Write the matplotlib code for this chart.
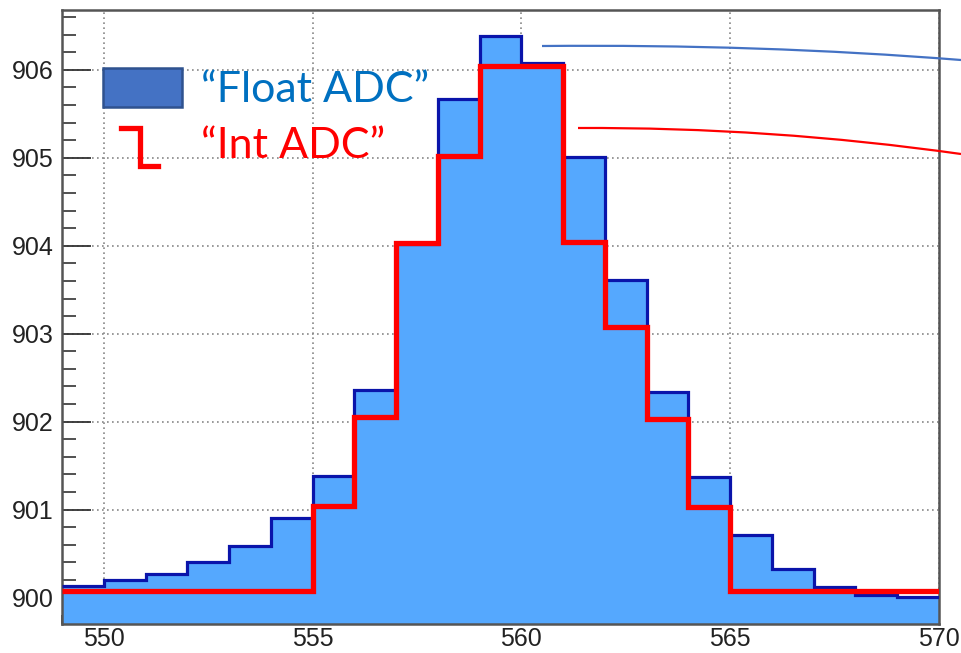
import numpy as np
import matplotlib
matplotlib.use("Agg")
import matplotlib.pyplot as plt
from matplotlib.path import Path
from matplotlib.patches import PathPatch, Rectangle
from matplotlib.lines import Line2D
from matplotlib.ticker import MultipleLocator, FixedLocator

# ---- data ----
bin_edges = list(range(549, 571))
float_adc = [900.13, 900.20, 900.27, 900.40, 900.59, 900.90, 901.38, 902.36,
             904.02, 905.67, 906.39, 906.08, 905.01, 903.61, 902.34, 901.37,
             900.71, 900.32, 900.12, 900.03, 900.01]
int_adc = [900.07, 900.07, 900.07, 900.07, 900.07, 900.07, 901.04, 902.05,
           904.03, 905.02, 906.04, 906.04, 904.04, 903.08, 902.03, 901.03,
           900.07, 900.07, 900.07, 900.07, 900.07]
x_major_ticks = [550, 555, 560, 565, 570]
y_major_ticks = [900, 901, 902, 903, 904, 905, 906]
legend_labels = ["\u201cFloat ADC\u201d", "\u201cInt ADC\u201d"]

W, H = 961, 653
fig = plt.figure(figsize=(W / 100, H / 100), dpi=100)
ax = fig.add_axes([62 / W, 1 - 624 / H, (939 - 62) / W, (624 - 10) / H])

ax.set_xlim(549, 570)
ax.set_ylim(899.70, 906.68)

ax.stairs(float_adc, bin_edges, fill=True, baseline=899.0, color="#55a8fe", zorder=2)
ax.stairs(float_adc, bin_edges, baseline=None, color="#0a14aa", linewidth=2.3, zorder=3)
ax.stairs(int_adc, bin_edges, baseline=None, color="#ff0000", linewidth=3.8, zorder=4)

ax.xaxis.set_major_locator(FixedLocator(x_major_ticks))
ax.yaxis.set_major_locator(FixedLocator(y_major_ticks))
ax.xaxis.set_minor_locator(MultipleLocator(1))
ax.yaxis.set_minor_locator(MultipleLocator(0.2))
ax.tick_params(which="both", direction="in", top=False, right=False, color="#333333")
ax.tick_params(which="major", axis="y", length=21, width=1.3)
ax.tick_params(which="minor", axis="y", length=10, width=1.2)
ax.tick_params(which="major", axis="x", length=14, width=1.3)
ax.tick_params(which="minor", axis="x", length=6.5, width=1.2)
ax.tick_params(axis="y", pad=6)
ax.tick_params(axis="x", pad=2)
for lab in ax.get_xticklabels() + ax.get_yticklabels():
    lab.set_fontfamily("Liberation Sans")
    lab.set_fontsize(18)
    lab.set_color("#222222")

ax.grid(True, which="major", linestyle=(0, (1, 2)), color="#888888", linewidth=1.2, zorder=1)
ax.set_axisbelow(True)
for s in ax.spines.values():
    s.set_color("#555555")
    s.set_linewidth(1.8)

# legend (drawn manually, in figure pixel coordinates)
def fx(px):
    return px / W

def fy(py):
    return 1 - py / H

fig.patches.append(Rectangle((fx(103), fy(107)), (182 - 103) / W, (107 - 68) / H,
                             transform=fig.transFigure, facecolor="#4472c4",
                             edgecolor="#2f528f", linewidth=1.8, zorder=10))
fig.lines.append(Line2D([fx(121), fx(140), fx(140), fx(158)],
                        [fy(128), fy(128), fy(166), fy(166)],
                        transform=fig.transFigure, color="#ff0000", linewidth=3.8,
                        solid_joinstyle="miter", zorder=10))
fig.text(fx(201), fy(102), legend_labels[0], fontfamily="Lato", fontsize=31,
         color="#0070c0", va="baseline", ha="left", zorder=10)
fig.text(fx(201), fy(158), legend_labels[1], fontfamily="Lato", fontsize=31,
         color="#ff0000", va="baseline", ha="left", zorder=10)

# annotation lines
for (p0, pc, p1, col) in [((542, 46), (760, 44), (961, 60), "#4472c4"),
                          ((578, 128), (770, 127), (961, 154), "#ff0000")]:
    path = Path([(fx(p0[0]), fy(p0[1])), (fx(pc[0]), fy(pc[1])), (fx(p1[0]), fy(p1[1]))],
                [Path.MOVETO, Path.CURVE3, Path.CURVE3])
    fig.patches.append(PathPatch(path, transform=fig.transFigure, facecolor="none",
                                 edgecolor=col, linewidth=1.6, zorder=10))

fig.savefig("out.png", dpi=100)
